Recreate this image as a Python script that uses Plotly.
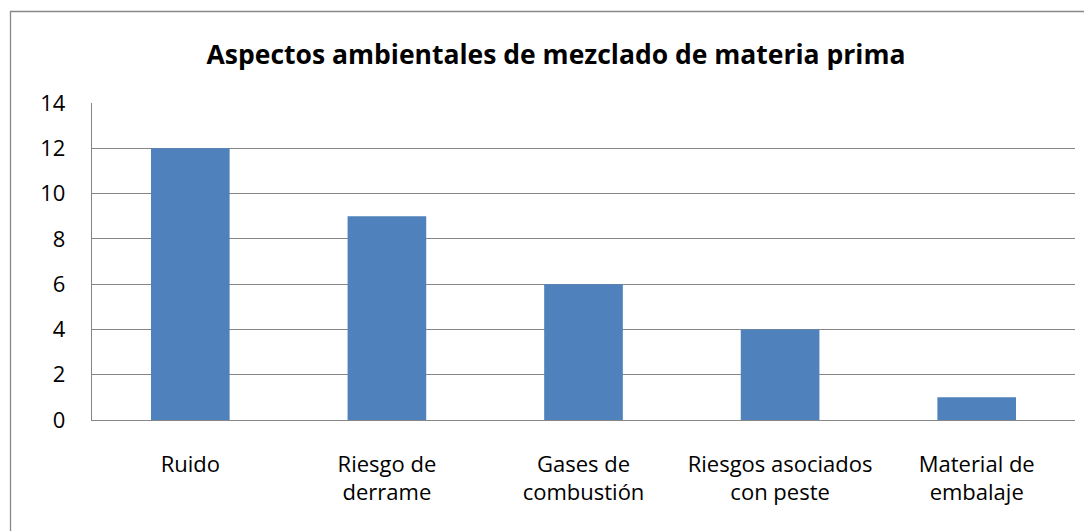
import plotly.graph_objects as go

categories = ["Ruido", "Riesgo de<br>derrame", "Gases de<br>combustión", "Riesgos asociados<br>con peste", "Material de<br>embalaje"]
values = [12, 9, 6, 4, 1]
title_text = "Aspectos ambientales de mezclado de materia prima"

# page body has an 8px margin, so figure is placed at (8, 8)
W, H = 1084, 523
L, R, T, B = 84, 17, 95, 111
pw, ph = W - L - R, H - T - B

def px(x):
    return (x - L) / pw

def py(y):
    return (H - B - y) / ph

FONT = "Open Sans, Liberation Sans, sans-serif"

fig = go.Figure(go.Bar(x=categories, y=values, marker=dict(color="#4F81BD", line=dict(width=0)), width=0.4))

fig.update_layout(
    width=W, height=H,
    margin=dict(l=L, r=R, t=T, b=B),
    paper_bgcolor="white", plot_bgcolor="white",
    font=dict(family=FONT, size=22, color="#000000"),
    title=dict(text="<b>" + title_text + "</b>", x=548 / W, xanchor="center", y=1 - 47 / H, yanchor="middle",
               font=dict(family=FONT, size=26.5, color="#000000")),
    showlegend=False,
    bargap=0.6,
)
fig.update_yaxes(range=[0, 14], dtick=2, showgrid=True, gridcolor="#868686", gridwidth=1.3,
                 showline=True, linecolor="#868686", linewidth=1.3, ticks="", zeroline=False,
                 ticklabelstandoff=21, tickfont=dict(size=22))
fig.update_xaxes(showline=True, linecolor="#868686", linewidth=1.3, ticks="", showgrid=False,
                 ticklabelstandoff=24, tickfont=dict(size=22))

fig.add_shape(type="rect", xref="paper", yref="paper",
              x0=px(2.5), x1=px(1100), y0=py(545), y1=py(3.5),
              line=dict(color="#888888", width=1.3), fillcolor="rgba(0,0,0,0)", layer="below")

fig.write_html("out.html")
